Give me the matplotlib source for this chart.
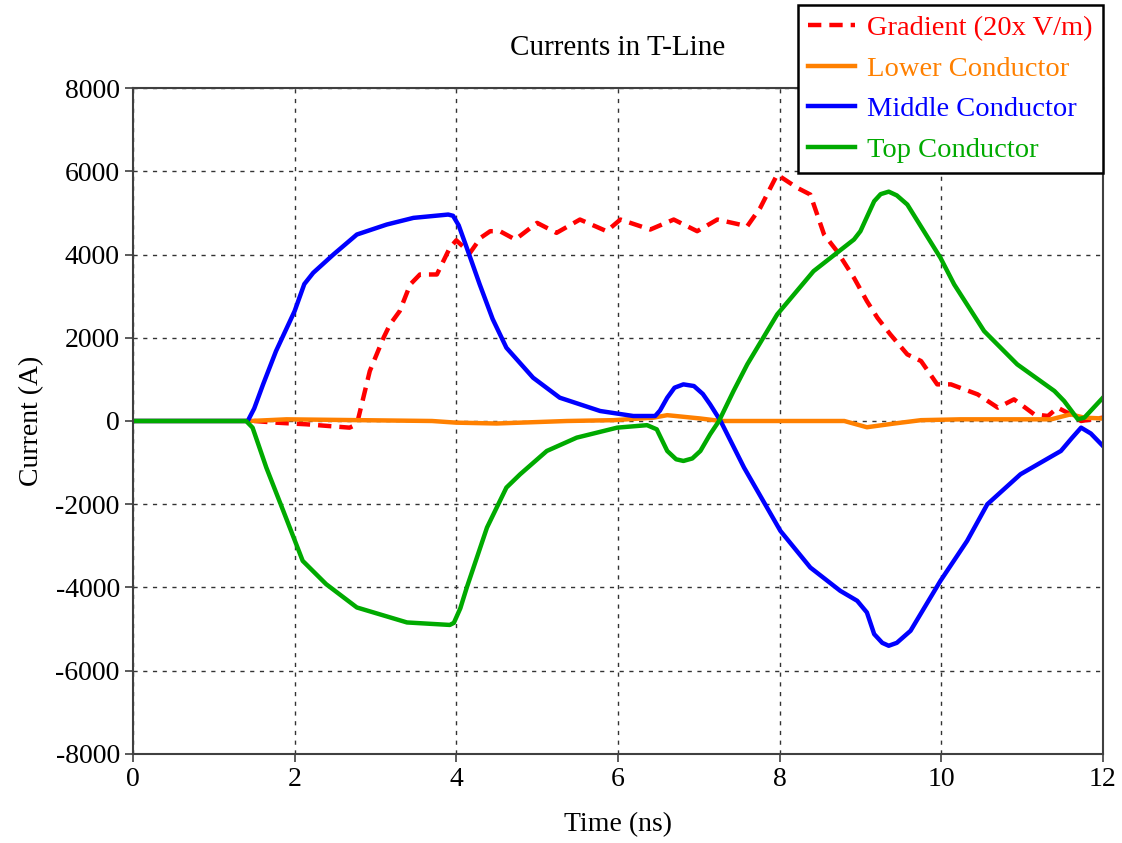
import numpy as np
import matplotlib.pyplot as plt

plt.rcParams['font.family'] = ['Liberation Serif', 'DejaVu Serif']
plt.rcParams['axes.unicode_minus'] = False

# --- values (time in ns, current in A) ---
t_mid = [0, 1.42, 1.50, 1.61, 1.77, 2.0, 2.12, 2.23, 2.48, 2.77, 3.14, 3.47, 3.90, 3.96, 4.03,
         4.13, 4.29, 4.45, 4.62, 4.95, 5.28, 5.78, 6.19, 6.46, 6.52, 6.61, 6.70, 6.81, 6.94, 7.05, 7.14,
         7.27, 7.56, 8.01, 8.38, 8.75, 8.96, 9.08, 9.17, 9.27, 9.35, 9.45, 9.62, 9.99, 10.32, 10.57,
         10.98, 11.48, 11.62, 11.73, 11.85, 12.0]
i_mid = [0, 0, 300, 880, 1680, 2640, 3290, 3560, 4000, 4480, 4720, 4880, 4960, 4930, 4700,
         4160, 3280, 2450, 1760, 1040, 560, 240, 120, 120, 250, 560, 800, 880, 840, 650, 400,
         0, -1120, -2640, -3520, -4080, -4320, -4600, -5120, -5330, -5400, -5330, -5040, -3840, -2880, -2000,
         -1280, -720, -400, -160, -300, -600]

t_top = [0, 1.40, 1.48, 1.65, 1.86, 2.10, 2.39, 2.77, 3.39, 3.92, 3.97, 4.05, 4.13, 4.38,
         4.62, 4.79, 5.12, 5.49, 5.99, 6.36, 6.48, 6.61, 6.72, 6.81, 6.92, 7.02, 7.14, 7.25,
         7.43, 7.60, 7.97, 8.42, 8.92, 9.0, 9.08, 9.17, 9.25, 9.35, 9.45, 9.58, 9.99, 10.16, 10.53,
         10.94, 11.40, 11.52, 11.69, 11.77, 12.0]
i_top = [0, 0, -160, -1120, -2160, -3360, -3920, -4480, -4840, -4900, -4850, -4500, -4000, -2560,
         -1600, -1280, -720, -400, -160, -100, -200, -720, -920, -960, -900, -720, -320, 0,
         720, 1360, 2560, 3600, 4360, 4560, 4900, 5280, 5450, 5510, 5420, 5200, 3920, 3280, 2160,
         1360, 720, 480, 40, 80, 560]

t_low = [0, 1.45, 1.9, 3.7, 4.0, 4.5, 5.37, 5.95, 6.44, 6.61, 7.02, 7.27, 8.34,
         8.80, 9.08, 9.42, 9.75, 10.24, 11.36, 11.6, 11.77, 12.0]
i_low = [0, 0, 40, 0, -40, -60, 0, 20, 80, 140, 60, 0, 0,
         0, -150, -60, 20, 40, 40, 160, 80, 60]

t_grad = [1.5, 1.77, 2.15, 2.68, 2.77, 2.85, 2.93, 3.10, 3.18, 3.30, 3.43, 3.55,
          3.76, 3.92, 4.0, 4.17, 4.30, 4.42, 4.54, 4.73, 5.0, 5.24, 5.53, 5.86, 6.03,
          6.40, 6.69, 6.98, 7.23, 7.60, 7.76, 7.97, 8.22, 8.38, 8.55, 8.71, 8.92,
          9.08, 9.21, 9.37, 9.58, 9.75, 9.95, 10.12, 10.45, 10.70, 10.90, 11.15,
          11.32, 11.44, 11.60, 11.73, 12.0]
i_grad = [0, -40, -80, -160, -80, 560, 1200, 2000, 2320, 2640, 3280, 3520,
          3520, 4160, 4340, 4040, 4400, 4560, 4560, 4360, 4760, 4520, 4840, 4560, 4840,
          4600, 4840, 4560, 4840, 4680, 5120, 5920, 5600, 5440, 4480, 4080, 3440,
          2880, 2480, 2080, 1600, 1440, 880, 880, 640, 320, 520, 160,
          120, 320, 160, 0, 80]

fig = plt.figure(figsize=(11.22, 8.43), dpi=100)
ax = fig.add_axes([0.1185, 0.1056, 0.8645, 0.79])

ax.plot(t_grad, i_grad, color='#FF0000', lw=3.2, dashes=(3, 1.8), label='Gradient (20x V/m)')
ax.plot(t_low, i_low, color='#FF8000', lw=3.2, label='Lower Conductor')
ax.plot(t_mid, i_mid, color='#0000FF', lw=3.2, label='Middle Conductor')
ax.plot(t_top, i_top, color='#00AA00', lw=3.2, label='Top Conductor')

ax.set_xlim(0, 12)
ax.set_ylim(-8000, 8000)
ax.set_xticks(np.arange(0, 13, 2))
ax.set_yticks(np.arange(-8000, 8001, 2000))
ax.grid(True, color='#333333', linestyle=(0, (3, 4)), linewidth=1.0)
ax.tick_params(labelsize=20, direction='out', length=6, color='#404040', width=1.2)
for s in ax.spines.values():
    s.set_color('#404040')
    s.set_linewidth(1.5)

ax.set_xlabel('Time (ns)', fontsize=20, labelpad=14)
ax.set_ylabel('Current (A)', fontsize=20, labelpad=8)
ax.set_title('Currents in T-Line', fontsize=21, pad=24)

leg = fig.legend(loc='upper right', bbox_to_anchor=(0.983, 0.994), fontsize=20.5,
                 frameon=True, fancybox=False, handlelength=1.65, handletextpad=0.45,
                 labelspacing=0.52, borderpad=0.35, borderaxespad=0)
leg.get_frame().set_edgecolor('black')
leg.get_frame().set_linewidth(1.8)
leg.get_frame().set_alpha(1)
for txt, line in zip(leg.get_texts(), leg.get_lines()):
    txt.set_color(line.get_color())

fig.savefig('out.png', dpi=100)
